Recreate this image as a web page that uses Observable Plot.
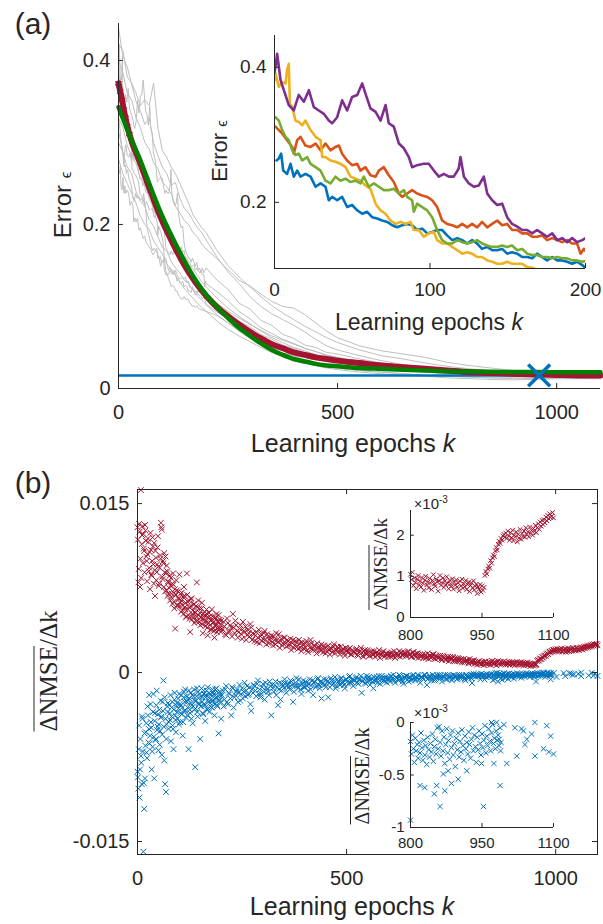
<!DOCTYPE html>
<html><head><meta charset="utf-8">
<script src="https://cdn.jsdelivr.net/npm/d3@7"></script>
<script src="https://cdn.jsdelivr.net/npm/@observablehq/plot@0.6"></script>
<style>
body{margin:0;background:#fff;}
#fig{position:relative;width:603px;height:924px;overflow:hidden;font-family:"Liberation Sans",Arial,sans-serif;color:#262626;background:#fff;}
#fig svg{position:absolute;left:0;overflow:visible;}
.lbl{position:absolute;white-space:nowrap;line-height:1;transform:translate(-50%,-50%);}
.rot{transform:translate(-50%,-50%) rotate(-90deg);}
.serif{font-family:"Liberation Serif","Times New Roman",serif;}
.ov{text-decoration:overline;text-decoration-thickness:1px;}
</style></head><body><div id="fig"></div>
<script>
// ---------------- Panel (a): main ----------------
const grayK = [0,10,20,30,40,50,60,70,80,90,100,110,120,130,140,150,160,170,180,190,200,225,250,275,300,325,350,375,400,425,450,475,500,550,600,650,700,750,800,850,900,950,1000,1050,1100];
const grayA = [0.440,0.405,0.392,0.371,0.350,0.338,0.322,0.330,0.300,0.284,0.270,0.262,0.248,0.251,0.232,0.220,0.214,0.205,0.196,0.190,0.181,0.160,0.142,0.128,0.112,0.100,0.091,0.084,0.077,0.069,0.060,0.052,0.047,0.040,0.034,0.029,0.026,0.023,0.021,0.019,0.018,0.017,0.0165,0.016,0.016];
const grayB = [0.360,0.338,0.318,0.310,0.288,0.270,0.262,0.240,0.232,0.218,0.205,0.198,0.184,0.176,0.170,0.160,0.151,0.146,0.138,0.130,0.124,0.110,0.098,0.088,0.079,0.070,0.062,0.056,0.050,0.046,0.041,0.037,0.034,0.029,0.026,0.023,0.021,0.019,0.018,0.017,0.0165,0.016,0.0158,0.0155,0.0155];
const grayC = [0.300,0.288,0.270,0.262,0.240,0.228,0.222,0.206,0.198,0.185,0.172,0.168,0.155,0.147,0.141,0.132,0.128,0.120,0.113,0.108,0.102,0.090,0.080,0.071,0.062,0.055,0.048,0.042,0.037,0.033,0.030,0.027,0.025,0.022,0.020,0.018,0.016,0.015,0.014,0.013,0.012,0.012,0.0125,0.013,0.013];
const grayD = [0.400,0.385,0.360,0.352,0.330,0.318,0.300,0.292,0.275,0.268,0.252,0.246,0.238,0.222,0.214,0.205,0.200,0.190,0.185,0.176,0.170,0.158,0.145,0.132,0.125,0.115,0.106,0.100,0.098,0.090,0.080,0.070,0.062,0.052,0.046,0.042,0.038,0.032,0.028,0.025,0.022,0.020,0.019,0.018,0.018];
const grayE = [0.330,0.318,0.296,0.284,0.275,0.256,0.250,0.232,0.220,0.214,0.196,0.190,0.178,0.165,0.160,0.150,0.146,0.136,0.128,0.124,0.116,0.104,0.094,0.086,0.078,0.071,0.064,0.059,0.054,0.049,0.045,0.041,0.038,0.033,0.029,0.026,0.023,0.021,0.019,0.018,0.017,0.016,0.0155,0.015,0.015];
const grayF = [0.280,0.262,0.250,0.238,0.226,0.210,0.200,0.194,0.180,0.172,0.164,0.152,0.146,0.138,0.130,0.122,0.116,0.110,0.104,0.099,0.094,0.082,0.072,0.064,0.057,0.050,0.044,0.039,0.034,0.031,0.028,0.025,0.023,0.020,0.018,0.016,0.015,0.013,0.012,0.011,0.0105,0.011,0.012,0.0125,0.013];
const grayG = [0.420,0.412,0.380,0.372,0.360,0.345,0.352,0.345,0.372,0.318,0.290,0.282,0.270,0.262,0.250,0.238,0.226,0.212,0.204,0.196,0.190,0.168,0.150,0.136,0.124,0.112,0.101,0.092,0.084,0.076,0.069,0.062,0.056,0.047,0.040,0.036,0.031,0.027,0.024,0.022,0.020,0.019,0.018,0.0175,0.017];

// inset curves (epochs 0-200) and their later course (epochs 225-1100, gray in main panel)
const insetBlue = [[1.3,0.262],[2.8,0.265],[4.3,0.272],[5.6,0.247],[8.1,0.242],[10.3,0.257],[12.4,0.238],[14.6,0.247],[16.7,0.238],[19.9,0.242],[23.2,0.238],[26.4,0.223],[29.6,0.228],[32.8,0.223],[34.9,0.203],[37.1,0.208],[40.3,0.203],[43.5,0.208],[46.7,0.193],[49.9,0.196],[53.2,0.188],[56.4,0.183],[59.6,0.186],[62.8,0.178],[66,0.176],[69.2,0.173],[72.5,0.171],[75.7,0.166],[78.9,0.163],[82.1,0.166],[85.3,0.168],[88.5,0.166],[91.7,0.159],[95,0.161],[98.2,0.154],[101.4,0.156],[104.6,0.159],[107.8,0.159],[111,0.151],[114.3,0.144],[117.5,0.147],[120.7,0.144],[123.9,0.139],[127.1,0.144],[130.3,0.139],[133.5,0.131],[136.8,0.134],[140,0.129],[143.2,0.129],[146.4,0.131],[149.6,0.124],[152.8,0.126],[156.1,0.124],[159.3,0.119],[162.5,0.119],[165.7,0.117],[168.9,0.124],[172.1,0.119],[175.3,0.114],[178.6,0.119],[181.8,0.114],[185,0.114],[188.2,0.112],[191.4,0.109],[194.6,0.112],[197.9,0.107],[200,0.103]];
const insetOrange = [[0.6,0.312],[2.8,0.307],[4.9,0.302],[8.1,0.292],[11.4,0.282],[12.4,0.272],[14.6,0.292],[16.7,0.297],[19.9,0.284],[23.2,0.282],[26.4,0.287],[29.6,0.277],[32.8,0.287],[36,0.277],[39.2,0.282],[41.4,0.284],[43.5,0.272],[46.7,0.262],[49.9,0.255],[53.2,0.257],[55.3,0.247],[58.5,0.252],[61.7,0.240],[65,0.238],[67.1,0.247],[70.3,0.252],[73.5,0.240],[76.7,0.230],[80,0.213],[82.1,0.208],[85.3,0.213],[88.5,0.218],[91.7,0.213],[95,0.210],[98.2,0.208],[101.4,0.203],[104.6,0.193],[107.8,0.173],[111,0.168],[114.3,0.166],[117.5,0.163],[120.7,0.168],[123.9,0.163],[127.1,0.168],[130.3,0.163],[133.5,0.171],[136.8,0.163],[140,0.168],[143.2,0.173],[146.4,0.166],[149.6,0.168],[152.8,0.159],[156.1,0.159],[159.3,0.154],[162.5,0.154],[165.7,0.149],[168.9,0.149],[172.1,0.151],[175.3,0.144],[178.6,0.147],[181.8,0.144],[185,0.141],[188.2,0.144],[191.4,0.139],[194.6,0.139],[196.8,0.124],[198.9,0.131],[200,0.128]];
const insetYellow = [[0,0.381],[0.6,0.391],[2.8,0.371],[4.9,0.378],[7.1,0.376],[8.1,0.396],[9.2,0.405],[9.9,0.346],[11.4,0.341],[13.5,0.321],[15.6,0.319],[17.8,0.314],[19.9,0.321],[23.2,0.307],[26.4,0.297],[29.6,0.292],[30.7,0.267],[32.8,0.267],[36,0.262],[39.2,0.260],[42.4,0.257],[45.7,0.252],[48.9,0.238],[52.1,0.235],[55.3,0.232],[58.5,0.225],[61.7,0.220],[65,0.198],[68.2,0.188],[71.4,0.183],[74.6,0.173],[77.8,0.168],[81,0.171],[84.2,0.168],[87.5,0.171],[89.6,0.159],[92.8,0.159],[96,0.149],[99.2,0.154],[102.5,0.156],[104.6,0.144],[107.8,0.139],[111,0.139],[114.3,0.134],[117.5,0.129],[120.7,0.124],[123.9,0.126],[127.1,0.124],[130.3,0.119],[133.5,0.119],[136.8,0.114],[140,0.112],[143.2,0.109],[146.4,0.109],[149.6,0.112],[152.8,0.109],[156.1,0.109],[159.3,0.109],[162.5,0.104],[165.7,0.103],[168.9,0.100],[172.1,0.101],[175.3,0.099],[178.6,0.101],[181.8,0.098],[185,0.097],[190,0.096],[195,0.095]];
const insetPurple = [[0,0.392],[0.6,0.400],[1.7,0.420],[3.9,0.381],[6,0.366],[9.2,0.344],[12.4,0.336],[15.6,0.359],[18.9,0.349],[22.1,0.366],[25.3,0.341],[28.5,0.336],[31.7,0.331],[34.9,0.321],[37.1,0.317],[40.3,0.326],[43.5,0.351],[46.7,0.336],[49.9,0.356],[53.2,0.359],[56.4,0.376],[58.5,0.361],[61.7,0.339],[65,0.334],[68.2,0.321],[71.4,0.344],[73.5,0.317],[76.7,0.312],[80,0.287],[83.2,0.280],[86.4,0.267],[88.5,0.252],[91.7,0.255],[96,0.257],[99.2,0.257],[102.5,0.247],[105.7,0.238],[108.9,0.242],[112.1,0.238],[115.3,0.238],[118.5,0.250],[119.6,0.267],[121.8,0.238],[125,0.228],[128.2,0.223],[131.4,0.225],[134.6,0.238],[136.8,0.213],[140,0.203],[143.2,0.196],[146.4,0.198],[149.6,0.178],[152.8,0.168],[156.1,0.164],[159.3,0.159],[162.5,0.159],[165.7,0.154],[168.9,0.159],[172.1,0.154],[175.3,0.149],[178.6,0.154],[181.8,0.144],[185,0.147],[188.2,0.141],[191.4,0.147],[194.6,0.141],[197.9,0.144],[200,0.147]];
const insetGreen = [[0.6,0.326],[2.8,0.321],[4.9,0.307],[7.1,0.297],[9.2,0.292],[11.4,0.277],[13.5,0.270],[15.6,0.272],[17.8,0.262],[21,0.267],[23.2,0.257],[26.4,0.252],[29.6,0.247],[32.8,0.232],[36,0.228],[39.2,0.238],[42.4,0.232],[45.7,0.235],[48.9,0.230],[52.1,0.232],[55.3,0.228],[57.4,0.238],[60.7,0.223],[63.9,0.228],[67.1,0.223],[70.3,0.218],[73.5,0.218],[76.7,0.220],[80,0.213],[83.2,0.218],[85.3,0.208],[88.5,0.203],[89.6,0.186],[91.7,0.198],[95,0.193],[98.2,0.188],[101.4,0.178],[104.6,0.159],[107.8,0.144],[111,0.139],[114.3,0.139],[117.5,0.144],[120.7,0.141],[123.9,0.139],[127.1,0.141],[130.3,0.144],[133.5,0.139],[136.8,0.136],[140,0.134],[143.2,0.134],[146.4,0.136],[149.6,0.134],[152.8,0.136],[156.1,0.129],[159.3,0.131],[162.5,0.124],[165.7,0.122],[168.9,0.122],[172.1,0.119],[175.3,0.119],[178.6,0.117],[181.8,0.119],[185,0.117],[188.2,0.117],[191.4,0.114],[194.6,0.114],[197.9,0.112],[200,0.113]];
const tailBlue   = [0.093,0.085,0.075,0.068,0.060,0.055,0.049,0.045,0.040,0.037,0.034,0.031,0.027,0.024,0.022,0.020,0.018,0.017,0.016,0.015,0.0145,0.014,0.014,0.0138];
const tailOrange = [0.118,0.107,0.094,0.085,0.074,0.067,0.060,0.055,0.049,0.045,0.040,0.037,0.032,0.028,0.025,0.023,0.021,0.020,0.019,0.018,0.0175,0.017,0.017,0.0168];
const tailYellow = [0.089,0.080,0.070,0.063,0.055,0.050,0.043,0.040,0.035,0.032,0.028,0.026,0.022,0.020,0.018,0.016,0.015,0.014,0.013,0.013,0.0125,0.012,0.012,0.0118];
const tailPurple = [0.132,0.121,0.104,0.097,0.083,0.077,0.066,0.061,0.053,0.050,0.044,0.042,0.036,0.031,0.028,0.026,0.024,0.022,0.021,0.020,0.019,0.0185,0.018,0.018];
const tailGreen  = [0.102,0.092,0.082,0.075,0.066,0.060,0.053,0.049,0.044,0.041,0.037,0.034,0.030,0.026,0.024,0.022,0.020,0.019,0.018,0.017,0.0165,0.016,0.016,0.0158];

const meanK = [0,4,8,12,16,20,25,50,75,100,125,150,175,200,225,250,275,300,325,350,375,400,425,450,475,500,550,600,650,700,750,800,850,900,950,1000,1050,1100];
const meanE = [0.372,0.362,0.352,0.340,0.330,0.320,0.310,0.274,0.238,0.204,0.176,0.151,0.130,0.113,0.099,0.088,0.078,0.069,0.061,0.054,0.049,0.044,0.041,0.038,0.036,0.034,0.031,0.028,0.026,0.024,0.022,0.020,0.019,0.018,0.017,0.0165,0.016,0.0158];
const fitK = [0,25,50,75,100,125,150,175,200,225,250,275,300,325,350,375,400,425,450,475,500,550,600,650,700,750,800,850,900,950,1000,1050,1100];
const fitE = [0.343,0.309,0.278,0.243,0.210,0.182,0.156,0.133,0.114,0.099,0.086,0.074,0.064,0.055,0.047,0.041,0.036,0.033,0.030,0.028,0.027,0.025,0.024,0.023,0.022,0.021,0.0207,0.0204,0.0202,0.0200,0.0199,0.0198,0.0197];
const targetLevel = 0.016;
const stopEpoch = 960;

// ---------------- Panel (b) ----------------
// values in units of 1e-3; even epochs 0-198
const redEarly = [12.9,8.0,13.2,7.6,16.2,11.4,13.0,12.3,10.8,13.1,
 11.7,9.9,10.5,11.6,9.3,7.4,10.9,8.6,12.0,9.6,
 11.5,6.8,10.2,8.9,11.1,9.4,7.9,10.4,13.3,12.7,
 8.3,9.7,10.6,7.2,8.8,9.5,6.8,8.0,7.5,6.4,
 8.4,7.0,6.1,7.8,5.7,3.9,6.9,7.3,5.9,6.6,
 8.7,6.2,5.4,7.1,6.0,5.2,6.8,5.6,4.9,8.8,
 6.3,5.1,5.8,3.6,6.5,4.7,5.5,6.0,4.4,5.3,
 5.9,8.0,4.6,5.1,5.7,4.2,4.9,6.2,3.5,4.8,
 5.4,4.1,4.6,5.2,3.3,4.4,5.0,3.8,4.7,5.6,
 4.0,4.5,3.1,4.9,4.2,3.6,4.6,5.1,3.9,4.3];
// odd epochs 1-199
const redEarlyOdd = [11.8,9.2,12.5,10.1,8.4,12.2,9.7,11.0,8.9,12.6,
 10.3,8.1,11.9,9.0,10.7,12.4,8.7,9.9,11.2,7.9,
 9.1,10.8,8.2,9.6,12.1,7.7,9.3,10.1,12.9,8.5,
 9.9,7.6,8.9,10.3,7.3,9.0,8.1,7.0,8.6,7.7,
 6.7,7.9,8.8,6.3,7.4,6.9,8.2,6.0,7.2,6.5,
 5.9,7.0,6.4,5.5,6.7,7.6,5.8,6.2,5.0,6.9,
 5.6,6.4,4.8,5.9,6.6,5.2,4.9,6.1,5.4,4.6,
 5.0,5.8,6.4,4.5,5.3,4.9,5.7,4.3,5.2,4.7,
 5.1,4.4,5.6,4.0,4.9,5.3,4.2,4.6,3.8,5.0,
 4.4,3.7,4.8,4.1,5.2,3.9,4.5,4.0,4.7,3.6];
// epochs 200,204,...,796
const redMid = [4.6,3.8,4.1,3.3,4.4,3.7,4.0,5.2,3.5,4.2,
 3.1,3.9,3.4,4.5,3.6,2.9,3.8,3.2,4.0,3.5,
 2.8,3.6,3.1,2.6,3.4,3.0,3.7,2.5,3.2,2.9,
 3.3,2.4,2.9,3.5,2.7,2.2,3.0,2.6,3.1,2.3,
 2.8,2.5,2.0,2.9,2.4,2.7,2.1,2.6,1.9,2.5,
 2.3,2.8,1.8,2.2,2.6,2.0,2.4,1.7,2.3,2.1,
 2.5,1.8,2.2,1.9,2.4,1.6,2.1,2.3,1.7,2.0,
 2.2,1.6,1.9,2.1,1.5,2.0,1.8,2.2,1.6,1.9,
 1.7,2.1,1.5,1.9,1.8,1.4,2.0,1.6,1.8,1.5,
 1.9,1.6,1.4,1.8,1.7,1.3,1.6,1.9,1.5,1.7,
 1.4,1.6,1.8,1.5,1.3,1.7,1.6,1.4,1.8,1.6,
 1.7,1.5,1.9,1.6,1.4,1.8,1.5,1.7,1.3,1.6,
 1.5,1.3,1.6,1.4,1.2,1.5,1.4,1.6,1.2,1.4,
 1.3,1.5,1.1,1.4,1.2,1.3,1.0,1.4,1.2,1.1,
 1.3,1.0,1.2,1.1,0.9,1.2,1.0,1.1,0.8,1.0];
// epochs 202,206,...,798
const redMid2 = [3.9,4.5,3.4,4.8,3.6,4.2,3.2,4.0,4.6,3.7,
 3.6,4.2,3.0,3.7,4.1,3.3,3.5,4.3,2.9,3.4,
 3.3,2.7,3.8,3.2,2.8,3.5,2.9,3.4,2.6,3.1,
 2.7,3.2,2.5,2.9,3.4,2.8,2.4,3.1,2.6,2.9,
 2.4,3.0,2.6,2.2,2.8,2.3,2.9,2.2,2.7,2.1,
 2.6,2.0,2.5,2.9,2.1,2.4,2.0,2.6,2.2,1.9,
 2.1,2.4,1.7,2.3,2.0,2.2,1.8,2.5,2.0,2.3,
 1.9,2.3,2.0,1.7,2.2,1.8,2.1,1.6,2.0,1.8,
 2.0,1.6,1.8,2.2,1.5,1.9,1.7,2.0,1.5,1.8,
 1.6,1.9,1.7,1.5,2.0,1.6,1.8,1.4,1.7,1.6,
 1.7,1.4,1.6,1.9,1.5,1.5,1.9,1.7,1.5,1.8,
 1.5,1.8,1.6,1.4,1.8,1.6,1.4,1.7,1.5,1.4,
 1.6,1.4,1.3,1.7,1.5,1.3,1.6,1.3,1.5,1.3,
 1.4,1.2,1.5,1.3,1.1,1.4,1.2,1.2,1.4,1.0,
 1.1,1.3,1.0,1.2,1.1,0.9,1.1,1.0,1.2,0.9];
// epochs 800,802,...,1100
const redLate = [1.05,0.92,1.10,0.78,0.96,0.85,0.70,0.93,1.02,0.80,
 0.88,0.74,0.97,0.83,0.66,0.91,1.00,0.79,0.86,0.72,
 0.95,0.84,0.68,0.90,1.04,0.81,0.76,0.93,0.87,0.64,
 0.89,1.02,0.78,0.85,0.96,0.73,0.88,0.80,0.99,0.83,
 0.70,0.91,0.82,0.76,0.94,0.69,0.86,0.79,0.92,0.74,
 0.84,0.65,0.88,0.77,0.93,0.71,0.82,0.75,0.90,0.68,
 0.80,0.86,0.63,0.78,0.84,0.72,0.89,0.67,0.76,0.81,
 0.58,0.74,0.69,0.80,0.62,0.77,0.66,0.73,1.02,1.12,
 1.06,1.18,1.25,1.20,1.38,1.32,1.45,1.52,1.48,1.62,
 1.70,1.64,1.78,1.85,1.80,1.92,1.88,1.98,2.02,1.95,
 2.05,1.92,2.10,1.98,1.88,2.06,1.94,2.12,1.86,2.00,
 1.96,2.08,1.84,2.02,1.93,2.14,1.90,2.04,1.97,2.10,
 1.95,2.18,2.02,2.08,1.96,2.20,2.05,2.12,2.00,2.16,
 2.10,2.24,2.06,2.18,2.28,2.14,2.32,2.22,2.36,2.26,
 2.38,2.30,2.44,2.35,2.48,2.40,2.52,2.43,2.46,2.55,
 2.42];
const blueEarly = [-8.8,-10.3,-4.7,-8.6,-7.4,-9.9,-4.1,-15.9,-12.1,-9.4,
 -5.3,-7.1,-3.0,-6.2,-2.0,-5.6,-4.4,-8.6,-6.6,-1.9,
 -9.4,-3.6,-5.9,-1.6,-4.8,-6.9,-3.3,-5.2,-4.0,-7.3,
 -2.6,-0.7,-7.8,-9.9,-10.6,-4.6,-3.5,-5.0,-2.9,-4.2,
 -6.1,-3.1,-4.7,-6.8,-2.4,-3.8,-5.3,-2.7,-4.1,-3.2,
 -1.9,-4.4,-2.9,-3.7,-5.6,-2.2,-3.4,-1.5,-4.0,-2.6,
 -3.1,-6.8,-2.3,-3.6,-1.8,-2.9,-4.5,-2.1,-3.3,-8.4,
 -2.5,-1.4,-3.9,-2.7,-1.9,-5.9,-3.0,-2.2,-3.6,-1.6,
 -2.8,-4.3,-2.0,-3.2,-1.3,-2.6,-3.5,-1.9,-2.4,-3.1,
 -1.7,-2.7,-3.8,-1.5,-2.3,-2.9,-1.8,-5.4,-2.5,-2.0];
const blueEarlyOdd = [-9.3,-6.8,-11.1,-5.9,-8.0,-3.9,-7.0,-9.8,-5.4,-6.5,
 -4.5,-7.6,-3.8,-5.0,-6.3,-2.8,-4.9,-7.0,-3.5,-5.7,
 -4.3,-6.0,-2.9,-5.1,-3.7,-4.6,-6.4,-2.5,-3.9,-5.5,
 -3.4,-4.8,-2.2,-4.1,-5.9,-3.0,-2.7,-4.4,-3.6,-2.0,
 -3.9,-2.6,-5.0,-3.3,-1.8,-4.2,-2.9,-3.5,-2.3,-4.6,
 -2.8,-3.6,-2.0,-3.1,-4.4,-1.7,-2.6,-3.4,-2.1,-3.8,
 -2.4,-1.6,-3.3,-2.7,-4.1,-2.0,-3.0,-1.5,-2.5,-3.2,
 -2.1,-3.5,-1.7,-2.8,-2.2,-3.0,-1.4,-2.6,-3.7,-1.9,
 -2.9,-2.2,-1.6,-3.3,-2.4,-1.8,-2.7,-2.0,-3.1,-1.5,
 -2.5,-1.9,-2.8,-2.2,-1.4,-3.0,-2.1,-2.4,-1.7,-2.6];
const blueMid = [-4.1,-1.6,-2.4,-1.2,-2.8,-1.9,-3.8,-1.4,-2.2,-1.7,
 -2.6,-1.1,-1.9,-2.3,-0.9,-1.6,-2.0,-1.3,-3.4,-1.8,
 -1.2,-2.1,-0.7,-1.5,-1.9,-1.0,-2.4,-1.3,-1.7,-0.8,
 -3.8,-1.4,-1.1,-2.0,-2.9,-0.9,-1.6,-1.2,-0.6,-1.8,
 -1.0,-1.5,-0.8,-2.6,-1.2,-0.5,-1.4,-1.1,-1.9,-0.7,
 -1.3,-0.9,-1.6,-0.6,-1.1,-2.0,-0.8,-1.2,-0.5,-1.4,
 -2.3,-0.9,-1.1,-0.6,-2.2,-1.3,-0.7,-1.0,-0.4,-1.2,
 -0.8,-1.1,-0.5,-0.9,-1.4,-0.6,-1.0,-0.3,-0.8,-1.2,
 -0.7,-0.4,-1.0,-0.6,-1.8,-0.5,-0.9,-0.3,-0.7,-1.1,
 -0.5,-1.4,-0.8,-0.4,-0.6,-1.0,-0.3,-0.7,-0.5,-0.9,
 -0.4,-0.8,-0.6,-0.2,-0.9,-0.5,-0.7,-0.3,-0.6,-1.0,
 -0.5,-0.3,-0.8,-0.4,-0.6,-0.2,-0.7,-0.5,-0.3,-0.9,
 -0.4,-0.6,-0.2,-1.1,-0.5,-0.3,-0.7,-0.4,-0.6,-0.2,
 -0.5,-0.3,-0.8,-0.4,-0.2,-0.6,-0.3,-0.5,-0.7,-0.2,
 -0.4,-0.6,-0.3,-0.5,-0.2,-0.4,-0.7,-0.3,-0.5,-0.2];
const blueMid2 = [-2.0,-3.0,-1.5,-2.6,-1.8,-2.3,-1.3,-3.1,-2.0,-1.5,
 -1.8,-2.5,-1.4,-1.7,-2.1,-1.2,-1.9,-2.8,-1.5,-1.1,
 -1.6,-1.0,-1.9,-2.2,-1.3,-1.7,-0.9,-1.5,-2.0,-1.2,
 -1.1,-1.7,-0.8,-1.3,-1.5,-2.4,-1.0,-1.4,-0.9,-1.2,
 -1.3,-0.7,-1.1,-1.7,-0.9,-1.2,-0.6,-1.5,-1.0,-1.3,
 -0.8,-1.2,-1.0,-1.5,-0.7,-0.9,-1.3,-0.6,-1.1,-0.8,
 -1.0,-0.6,-1.3,-0.8,-0.9,-0.5,-1.1,-0.7,-1.4,-0.6,
 -0.9,-0.5,-0.8,-1.1,-0.6,-0.8,-0.4,-0.9,-0.6,-0.7,
 -0.5,-0.9,-0.6,-0.3,-0.8,-0.6,-1.0,-0.5,-0.4,-0.7,
 -0.8,-0.4,-0.6,-0.9,-0.3,-0.6,-0.5,-0.8,-0.4,-0.6,
 -0.6,-0.3,-0.5,-0.7,-0.4,-0.6,-0.2,-0.5,-0.8,-0.4,
 -0.3,-0.6,-0.4,-0.7,-0.3,-0.5,-0.4,-0.2,-0.6,-0.4,
 -0.5,-0.2,-0.4,-0.6,-0.3,-0.5,-0.2,-0.7,-0.4,-0.3,
 -0.2,-0.5,-0.3,-0.4,-0.6,-0.2,-0.4,-0.3,-0.5,-0.3,
 -0.3,-0.5,-0.2,-0.4,-0.3,-0.6,-0.2,-0.4,-0.3,-0.5];
// epochs 800,802,...,990
const blueLate = [-0.18,-0.30,-0.12,-0.25,-0.38,-0.15,-0.27,-0.21,-0.34,-0.19,
 -0.29,-0.10,-0.24,-0.36,-0.17,-0.31,-0.22,-0.40,-0.14,-0.26,
 -0.33,-0.20,-0.28,-0.11,-0.37,-0.23,-0.16,-0.30,-0.05,-0.25,
 -0.04,-0.19,-0.32,-0.08,-0.27,-0.14,-0.39,-0.21,-0.06,-0.29,
 -0.17,-0.35,-0.12,-0.24,-0.08,-0.31,-0.20,-0.42,-0.15,-0.26,
 -0.10,-0.33,-0.18,-0.28,-0.07,-0.22,-0.36,-0.13,-0.25,-0.19,
 -0.30,-0.09,-0.21,-0.34,-0.16,-0.05,-0.27,-0.12,-0.23,-0.38,
 -0.14,-0.26,-0.08,-0.20,-0.31,-0.11,-0.24,-0.17,-0.03,-0.29,
 -0.13,-0.22,-0.06,-0.18,-0.27,-0.10,-0.02,-0.20,-0.15,-0.25,
 -0.08,-0.17,-0.12,-0.22,-0.05,-0.19];
const blueSparse = [[800,-0.93],[820,-0.60],[830,-0.62],[850,-0.68],[855,-0.60],[862,-0.80],[872,-0.65],[869,-0.49],[879,-0.46],[886,-0.58],[900,-0.54],[918,-0.46],[949,-0.39],[953,-0.80],[975,-0.39],[988,-0.60],[1002,-0.39],[1019,-0.05],[1023,-0.32],[1033,-0.06],[1037,-0.08],[1040,-0.21],[1044,-0.16],[1054,-0.11],[1061,-0.32],[1061,0.0],[1079,-0.25],[1086,-0.03],[1090,-0.28],[1094,-0.13],[1100,-0.30],[996,-0.02],[981,0.0],[970,0.0],[989,-0.27],[986,-0.16]];

const xTicksA = [0,500,1000], yTicksA = [0,0.2,0.4];
const xTicksAi = [0,100,200], yTicksAi = [0.2,0.4];
const xTicksB = [0,500,1000], yTicksB = [-15,0,15], yTickLabelsB = ["-0.015","0","0.015"];
const xTicksBi = [800,950,1100], yTicksBu = [0,1,2], yTicksBl = [-1,-0.5,0], yTickLabelsBl = ["-1","-0.5","0"];

// ---------------- build ----------------
const RED = "#A2142F", GREEN = "#008000", BLUE = "#0072BD", GRAY = "#bfbfbf", AX = "#262626";
const COLORS = {blue:"#0072BD", orange:"#D95319", yellow:"#EDB120", purple:"#7E2F8E", green:"#77AC30"};
const FONT = '"Liberation Sans", Arial, sans-serif';
const fig = document.getElementById("fig");
const toObj = (ks, es) => ks.map((k, i) => ({k, e: es[i]}));
const pairs = arr => arr.map(([k, e]) => ({k, e}));
const grayTailK = grayK.slice(21);
const insets = [
  {c: COLORS.blue, pts: insetBlue, tail: tailBlue},
  {c: COLORS.orange, pts: insetOrange, tail: tailOrange},
  {c: COLORS.yellow, pts: insetYellow, tail: tailYellow},
  {c: COLORS.purple, pts: insetPurple, tail: tailPurple},
  {c: COLORS.green, pts: insetGreen, tail: tailGreen}
];
const grayLines = [grayA, grayB, grayC, grayD, grayE, grayF, grayG].map(a => toObj(grayK, a))
  .concat(insets.map(s => pairs(s.pts).concat(toObj(grayTailK, s.tail))));
const meanData = toObj(meanK, meanE);
const fitData = toObj(fitK, fitE);

function place(svg, top) { svg.style.top = top + "px"; fig.appendChild(svg); }
const baseStyle = (fs) => ({background: "transparent", color: AX, fontFamily: FONT, fontSize: fs + "px", overflow: "visible"});

// Panel (a) main
place(Plot.plot({
  width: 603, height: 460, marginLeft: 118, marginRight: 3, marginTop: 23, marginBottom: 72,
  x: {domain: [0, 1100]}, y: {domain: [0, 0.445]},
  style: baseStyle(20),
  marks: [
    ...grayLines.map(g => Plot.line(g, {x: "k", y: "e", stroke: GRAY, strokeWidth: 1})),
    Plot.ruleY([targetLevel], {stroke: BLUE, strokeWidth: 2.5}),
    Plot.line(meanData, {x: "k", y: "e", stroke: RED, strokeWidth: 6, curve: "monotone-x"}),
    Plot.dot(meanData.filter(d => d.k <= 25), {x: "k", y: "e", symbol: "asterisk", r: 3.5, stroke: RED, strokeWidth: 1.2}),
    Plot.line(fitData, {x: "k", y: "e", stroke: GREEN, strokeWidth: 4.5, curve: "monotone-x"}),
    Plot.dot([{k: stopEpoch, e: targetLevel}], {x: "k", y: "e", symbol: "times", r: 10, stroke: BLUE, strokeWidth: 3.5}),
    Plot.ruleX([0], {stroke: AX}),
    Plot.ruleY([0], {stroke: AX}),
    Plot.ruleY(yTicksA.slice(1), {x1: 0, x2: 11, stroke: AX}),
    Plot.ruleX(xTicksA.slice(1), {y1: 0, y2: 0.006, stroke: AX}),
    Plot.axisX({ticks: xTicksA, tickSize: 0, tickPadding: 16, tickFormat: d => String(d), label: null}),
    Plot.axisY({ticks: yTicksA, tickSize: 0, tickPadding: 8, tickFormat: d => String(d), label: null})
  ]
}), 0);

// Panel (a) inset
place(Plot.plot({
  width: 603, height: 340, marginLeft: 274, marginRight: 18, marginTop: 35, marginBottom: 72,
  x: {domain: [0, 200]}, y: {domain: [0.102, 0.447]},
  style: baseStyle(19),
  marks: [
    ...insets.map(s => Plot.line(pairs(s.pts), {x: "k", y: "e", stroke: s.c, strokeWidth: 2.6, clip: true})),
    Plot.ruleX([0], {stroke: AX}),
    Plot.ruleY([0.102], {stroke: AX}),
    Plot.ruleY(yTicksAi, {x1: 0, x2: 3.2, stroke: AX}),
    Plot.ruleX(xTicksAi.slice(1), {y1: 0.102, y2: 0.1094, stroke: AX}),
    Plot.axisX({ticks: xTicksAi, tickSize: 0, tickPadding: 14, tickFormat: d => String(d), label: null}),
    Plot.axisY({ticks: yTicksAi, tickSize: 0, tickPadding: 8, tickFormat: d => String(d), label: null})
  ]
}), 0);

// Panel (b) data objects
const evenK = (arr, start, step) => arr.map((v, i) => ({k: start + i * step, v}));
const redLateObj = evenK(redLate, 800, 2);
const blueLateObj = evenK(blueLate, 800, 2).concat(blueSparse.map(([k, v]) => ({k, v})));
const redAll = [...evenK(redEarly, 0, 2), ...evenK(redEarlyOdd, 1, 2), ...evenK(redMid, 200, 4), ...evenK(redMid2, 202, 4), ...redLateObj];
const blueAll = [...evenK(blueEarly, 0, 2), ...evenK(blueEarlyOdd, 1, 2), ...evenK(blueMid, 200, 4), ...evenK(blueMid2, 202, 4), ...blueLateObj];

// Panel (b) main
place(Plot.plot({
  width: 603, height: 454, marginLeft: 137, marginRight: 6, marginTop: 19, marginBottom: 70,
  x: {domain: [0, 1100]}, y: {domain: [-16.15, 16.25]},
  style: baseStyle(20),
  marks: [
    Plot.dot(redAll, {x: "k", y: "v", symbol: "times", r: 2.7, stroke: RED, strokeWidth: 1}),
    Plot.dot(blueAll, {x: "k", y: "v", symbol: "times", r: 2.7, stroke: BLUE, strokeWidth: 1}),
    Plot.frame({stroke: AX}),
    Plot.ruleY(yTicksB, {x1: 0, x2: 12, stroke: AX}),
    Plot.ruleY(yTicksB, {x1: 1088, x2: 1100, stroke: AX}),
    Plot.ruleX(xTicksB.slice(1), {y1: -16.15, y2: -15.7, stroke: AX}),
    Plot.ruleX(xTicksB.slice(1), {y1: 16.25, y2: 15.8, stroke: AX}),
    Plot.axisX({ticks: xTicksB, tickSize: 0, tickPadding: 16, tickFormat: d => String(d), label: null}),
    Plot.axisY({ticks: yTicksB, tickSize: 0, tickPadding: 8, tickFormat: d => yTickLabelsB[yTicksB.indexOf(d)], label: null})
  ]
}), 470);

// Panel (b) upper inset
place(Plot.plot({
  width: 603, height: 200, marginLeft: 410, marginRight: 50, marginTop: 40, marginBottom: 53,
  x: {domain: [800, 1100]}, y: {domain: [0, 2.6]},
  style: baseStyle(15),
  marks: [
    Plot.dot(redLateObj, {x: "k", y: "v", symbol: "times", r: 2.2, stroke: RED, strokeWidth: 1}),
    Plot.ruleX([800], {stroke: AX}),
    Plot.ruleY([0], {stroke: AX}),
    Plot.ruleY(yTicksBu.slice(1), {x1: 800, x2: 808, stroke: AX}),
    Plot.ruleX(xTicksBi.slice(1), {y1: 0, y2: 0.1, stroke: AX}),
    Plot.axisX({ticks: xTicksBi, tickSize: 0, tickPadding: 12, tickFormat: d => String(d), label: null}),
    Plot.axisY({ticks: yTicksBu, tickSize: 0, tickPadding: 6, tickFormat: d => String(d), label: null})
  ]
}), 470);

// Panel (b) lower inset
place(Plot.plot({
  width: 603, height: 200, marginLeft: 410, marginRight: 50, marginTop: 32, marginBottom: 63,
  x: {domain: [800, 1100]}, y: {domain: [-1, 0]},
  style: baseStyle(15),
  marks: [
    Plot.dot(blueLateObj, {x: "k", y: "v", symbol: "times", r: 2.5, stroke: BLUE, strokeWidth: 1}),
    Plot.ruleX([800], {stroke: AX}),
    Plot.ruleY([-1], {stroke: AX}),
    Plot.ruleY([-0.5, 0], {x1: 800, x2: 808, stroke: AX}),
    Plot.ruleX(xTicksBi.slice(1), {y1: -1, y2: -0.962, stroke: AX}),
    Plot.axisX({ticks: xTicksBi, tickSize: 0, tickPadding: 10, tickFormat: d => String(d), label: null}),
    Plot.axisY({ticks: yTicksBl, tickSize: 0, tickPadding: 6, tickFormat: d => yTickLabelsBl[yTicksBl.indexOf(d)], label: null})
  ]
}), 690);

// ---------------- text labels ----------------
function lbl(html, x, y, size, cls = "") {
  const d = document.createElement("div");
  d.className = "lbl " + cls;
  d.style.left = x + "px"; d.style.top = y + "px"; d.style.fontSize = size + "px";
  d.innerHTML = html; fig.appendChild(d);
}
const NMSE = '<span class="ov">ΔNMSE</span>/Δk';
lbl("(a)", 33, 24, 30);
lbl('Error <span style="font-size:15px">ϵ</span>', 63, 205, 24, "rot");
lbl("Learning epochs <i>k</i>", 353, 443, 25);
lbl('Error <span style="font-size:15px">ϵ</span>', 220, 151, 22, "rot");
lbl("Learning epochs <i>k</i>", 429, 322, 23);
lbl("(b)", 33, 483, 30);
lbl(NMSE, 48, 671, 25, "rot serif");
lbl("Learning epochs <i>k</i>", 352, 906, 25);
lbl(NMSE, 380, 564, 19, "rot serif");
lbl(NMSE, 362, 776, 20, "rot serif");
lbl('<span style="font-size:14px">×</span>10<sup style="font-size:10px">-3</sup>', 431, 503, 15);
lbl('<span style="font-size:14px">×</span>10<sup style="font-size:10px">-3</sup>', 431, 712, 15);
</script></body></html>
